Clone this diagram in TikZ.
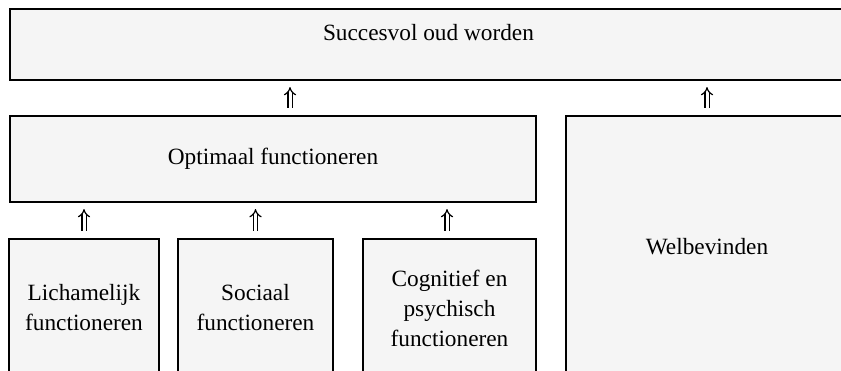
\documentclass[tikz,border=0pt]{standalone}
\usepackage{fontspec}
\setmainfont{Liberation Serif}
\usetikzlibrary{arrows.meta,positioning}
\definecolor{stipple}{gray}{0.96}

\begin{document}
\begin{tikzpicture}[
    x=0.5pt, y=-0.5pt,
    every node/.style={font=\fontsize{11.65}{15}\selectfont},
    box/.style={rectangle, draw, line width=1pt, fill=stipple,
                align=center, anchor=north west, inner sep=0pt},
    up/.style={double, double distance=1.5pt, line width=0.6pt,
               -{Implies}, shorten <=3.75pt, shorten >=3pt},
]
\clip (0,0) rectangle (841,370);

% Nodes
\node[box, minimum width=418.5pt, minimum height=35.5pt,
      label={[yshift=5.75pt]center:Succesvol oud worden}] (succ) at (9,8) {};
\node[box, minimum width=263pt, minimum height=43pt]   (opt)  at (9,115) {Optimaal functioneren};
\node[box, minimum width=141pt, minimum height=130.5pt] (welb) at (565,115) {Welbevinden};
\node[box, minimum width=75pt, minimum height=69pt]    (lich) at (8,238) {Lichamelijk\\functioneren};
\node[box, minimum width=77.5pt, minimum height=69pt]  (soc)  at (177,238) {Sociaal\\functioneren};
\node[box, minimum width=86.5pt, minimum height=69pt]  (cog)  at (362,238) {Cognitief en\\psychisch\\functioneren};

% Arrows
\draw[up] (lich.north) -- (lich.north |- opt.south);
\draw[up] (soc.north) -- (soc.north |- opt.south);
\draw[up] ([xshift=-1.25pt]cog.north) -- ([xshift=-1.25pt]cog.north |- opt.south);
\draw[up] ([xshift=8.5pt]opt.north) -- ([xshift=8.5pt]opt.north |- succ.south);
\draw[up] (welb.north) -- (welb.north |- succ.south);

\end{tikzpicture}
\end{document}
